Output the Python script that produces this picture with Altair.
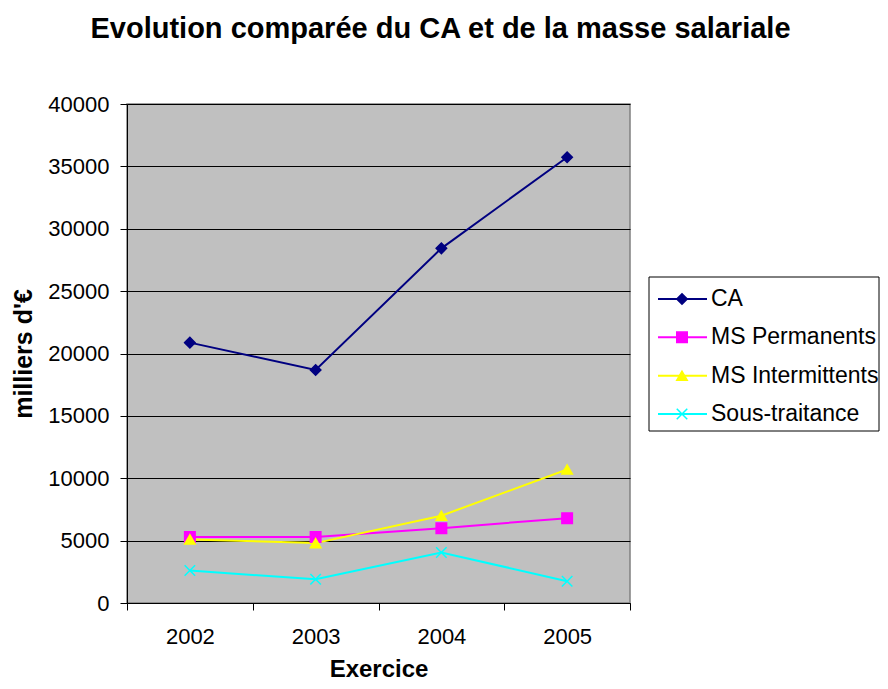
import altair as alt
import pandas as pd

years = ["2002", "2003", "2004", "2005"]
series = ["CA", "MS Permanents", "MS Intermittents", "Sous-traitance"]
ca = [20870, 18680, 28430, 35730]
ms_perm = [5300, 5300, 6000, 6800]
ms_int = [5100, 4800, 7000, 10700]
sous = [2600, 1900, 4050, 1750]
y_ticks = [0, 5000, 10000, 15000, 20000, 25000, 30000, 35000, 40000]

colors = ["#000080", "#FF00FF", "#FFFF00", "#00FFFF"]
shapes = ["diamond", "square", "triangle-up", "M-1,-1L1,1M-1,1L1,-1"]

rows = []
for name, vals in zip(series, [ca, ms_perm, ms_int, sous]):
    for yr, v in zip(years, vals):
        rows.append({"year": yr, "series": name, "value": v})
df = pd.DataFrame(rows)
legend_df = pd.DataFrame({"series": series})

FONT = "Liberation Sans"

color_scale = alt.Scale(domain=series, range=colors)
shape_scale = alt.Scale(domain=series, range=shapes)

x_enc = alt.X(
    "year:O",
    scale=alt.Scale(type="band", paddingInner=0, paddingOuter=0),
    axis=alt.Axis(
        title="Exercice", tickBand="extent", labelAngle=0, grid=False,
        labelFontSize=22, labelPadding=16, titleFontSize=24, titleFontWeight="bold",
        titlePadding=10, tickSize=7,
    ),
)
y_enc = alt.Y(
    "value:Q",
    scale=alt.Scale(domain=[0, 40000]),
    axis=alt.Axis(
        values=y_ticks, format="d", title="milliers d'€", grid=True,
        gridColor="#000000", gridWidth=1, labelFontSize=22, labelPadding=11,
        titleFontSize=25, titleFontWeight="bold", titlePadding=11, tickSize=7,
    ),
)

base = alt.Chart(df).encode(x=x_enc, y=y_enc)
lines = base.mark_line(strokeWidth=2).encode(
    color=alt.Color("series:N", scale=color_scale, legend=None),
    detail="series:N",
)
points = base.mark_point(filled=True, size=110, strokeWidth=1.5, opacity=1).encode(
    fill=alt.Fill("series:N", scale=color_scale, legend=None),
    stroke=alt.Stroke("series:N", scale=color_scale, legend=None),
    shape=alt.Shape("series:N", scale=shape_scale, legend=None),
)
main = alt.layer(lines, points)

leg_y = alt.Y(
    "series:N",
    scale=alt.Scale(type="point", domain=series, range=[195, 310], padding=0),
    axis=None,
)
leg_box = alt.Chart(pd.DataFrame({"k": [0]})).mark_rect(
    fill="white", stroke="black", strokeWidth=1
).encode(x=alt.value(522), x2=alt.value(752), y=alt.value(173), y2=alt.value(327))
leg_base = alt.Chart(legend_df)
leg_rules = leg_base.mark_rule(strokeWidth=2).encode(
    x=alt.value(531), x2=alt.value(580), y=leg_y,
    color=alt.Color("series:N", scale=color_scale, legend=None),
)
leg_pts = leg_base.mark_point(filled=True, size=110, strokeWidth=1.5, opacity=1).encode(
    x=alt.value(555), y=leg_y,
    fill=alt.Fill("series:N", scale=color_scale, legend=None),
    stroke=alt.Stroke("series:N", scale=color_scale, legend=None),
    shape=alt.Shape("series:N", scale=shape_scale, legend=None),
)
leg_text = leg_base.mark_text(align="left", baseline="middle", fontSize=23, font=FONT).encode(
    x=alt.value(584), y=leg_y, text="series:N"
)
legend = alt.layer(leg_box, leg_rules, leg_pts, leg_text)

chart = (
    alt.layer(main, legend)
    .resolve_scale(y="independent")
    .properties(
        width=503,
        height=499,
        padding={"left": 119, "top": 96, "right": 250, "bottom": 78},
        autosize=alt.AutoSizeParams(type="none"),
        title=alt.TitleParams(
            "Evolution comparée du CA et de la masse salariale",
            fontSize=29, font=FONT, fontWeight="bold", anchor="middle",
            dx=62, offset=49, color="black",
        ),
    )
    .configure(font=FONT)
    .configure_view(fill="#C0C0C0", stroke="#808080", strokeWidth=1.5)
    .configure_axis(
        domainColor="#000000", tickColor="#000000", labelColor="#000000",
        titleColor="#000000", labelFont=FONT, titleFont=FONT,
    )
)

chart.save("out.html", embed_options={"renderer": "svg", "actions": False})
